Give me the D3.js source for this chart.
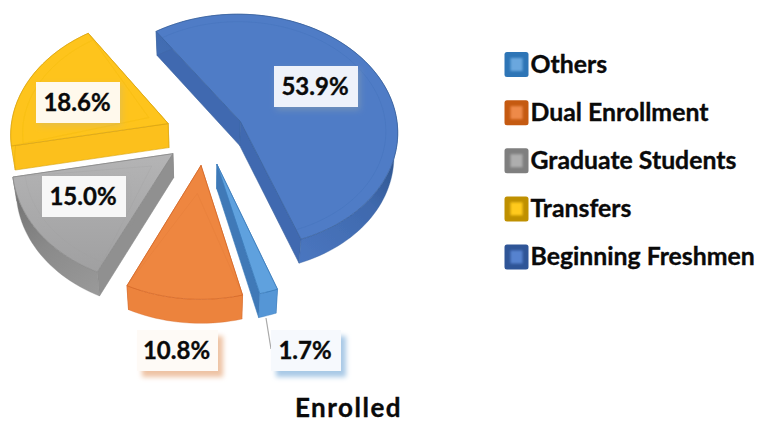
<!DOCTYPE html>
<html><head><meta charset="utf-8">
<script src="https://cdn.jsdelivr.net/npm/d3@7"></script>
<style>html,body{margin:0;padding:0;background:#fff}svg{display:block}text{font-family:Lato,"Open Sans",sans-serif;font-weight:700;fill:#0a0a0a;stroke:#0a0a0a;stroke-width:.35px}</style>
</head><body><svg id="c" width="759" height="422"></svg>
<script>
// data, in pie order (clockwise)
const categories = ["Beginning Freshmen","Others","Dual Enrollment","Graduate Students","Transfers"];
const values = [53.9,1.7,10.8,15.0,18.6];
const labels = ["53.9%","1.7%","10.8%","15.0%","18.6%"];
const legendOrder = ["Others","Dual Enrollment","Graduate Students","Transfers","Beginning Freshmen"];
const title = "Enrolled";

// styles
const styles = {
 "Beginning Freshmen":{top:"#4f7cc6",rim:"#4672bd",wall:"#4069b0",edge:"#3b639f",inset:"#3b66ad",lo:"#2f5597",hi:"#5682cf",box:"#eef2fa",shadow:"#9aa"},
 "Others":{top:"#5fa1de",rim:"#5596d6",wall:"#3f79b7",edge:"#3c7cbb",inset:"#3f7cba",lo:"#2e75b6",hi:"#6ba7de",box:"#f6f9fd",shadow:"#a9c9e6"},
 "Dual Enrollment":{top:"#ee8640",rim:"#ec833e",wall:"#d96f2c",edge:"#d5692a",inset:"#d9732e",lo:"#c55a11",hi:"#ee8a4a",box:"#fefaf6",shadow:"#eec3a4"},
 "Graduate Students":{top:"#a9a9aa",rim:"#8e8e8e",wall:"#909090",edge:"#8a8a8a",inset:"#9a9a9a",lo:"#7f7f7f",hi:"#aeaeae",box:"#f7f7f7",shadow:"#aaa"},
 "Transfers":{top:"#fec41a",rim:"#fdc41c",wall:"#fcc01a",edge:"#d9a414",inset:"#e0aa10",lo:"#bf9000",hi:"#ffca1f",box:"#fff9ec",shadow:"#c9b77a"}
};
const labelBox = {
 "Beginning Freshmen":[274,66,84,41],
 "Transfers":[36,82,84,41],
 "Graduate Students":[42,176,84,41],
 "Dual Enrollment":[137,330,81,41],
 "Others":[271,330,70,41]
};

// projection of the tilted pie plane
const cx=205, cy=135, R=158, A=118, K=0.08, EXPLODE=0.254, DEPTH=24, SHRINK=0.98;
function project(wx,wy,z){
  const w=1+K*wy;
  let x=cx+R*wx/w, y=cy-A*wy/w;
  if(z){ x=cx+(x-cx)*SHRINK; y=y+DEPTH; }
  return [x,y];
}
const svg=d3.select("#c");
const defs=svg.append("defs");
const blur=defs.append("filter").attr("id","soft").attr("x","-5%").attr("y","-5%").attr("width","110%").attr("height","110%");
blur.append("feGaussianBlur").attr("stdDeviation",0.35);
const b2=defs.append("filter").attr("id","inner").attr("x","-30%").attr("y","-30%").attr("width","160%").attr("height","160%");
b2.append("feGaussianBlur").attr("stdDeviation",1);
categories.forEach((c,i)=>{
  const f=defs.append("filter").attr("id","sh"+i).attr("x","-20%").attr("y","-20%").attr("width","150%").attr("height","160%");
  const st=styles[c], colored=(c==="Others"||c==="Dual Enrollment");
  f.append("feDropShadow").attr("dx",colored?5:2).attr("dy",colored?6:3).attr("stdDeviation",colored?2.5:3)
   .attr("flood-color",st.shadow).attr("flood-opacity",colored?1:.45);
});
const gg=defs.append("linearGradient").attr("id","grayTop").attr("x1",0).attr("y1",0).attr("x2",0).attr("y2",1);
gg.append("stop").attr("offset",0).attr("stop-color","#b4b4b5");
gg.append("stop").attr("offset",1).attr("stop-color","#a0a0a1");
const gr=defs.append("linearGradient").attr("id","grayRim").attr("gradientUnits","userSpaceOnUse").attr("x1",15).attr("y1",180).attr("x2",100).attr("y2",296);
gr.append("stop").attr("offset",0).attr("stop-color","#6e6e6e");
gr.append("stop").attr("offset",.5).attr("stop-color","#8a8a8a");
gr.append("stop").attr("offset",1).attr("stop-color","#9a9a9a");
const br=defs.append("linearGradient").attr("id","blueRim").attr("gradientUnits","userSpaceOnUse").attr("x1",395).attr("y1",160).attr("x2",300).attr("y2",262);
br.append("stop").attr("offset",0).attr("stop-color","#2f558f");
br.append("stop").attr("offset",.35).attr("stop-color","#3f69ad");
br.append("stop").attr("offset",1).attr("stop-color","#4a76c0");

const start=-34*Math.PI/180;
const pie=d3.pie().sort(null).startAngle(start).endAngle(start+2*Math.PI);
const arcs=pie(values);
const line=d3.line();
const g=svg.append("g").attr("filter","url(#soft)");

arcs.forEach((a,i)=>{
  const c=categories[i], st=styles[c];
  const mid=(a.startAngle+a.endAngle)/2;
  const ox=EXPLODE*Math.sin(mid), oy=EXPLODE*Math.cos(mid);
  const pt=(th,r,z)=>project(ox+r*Math.sin(th),oy+r*Math.cos(th),z);
  const apex=z=>project(ox,oy,z);
  const n=Math.max(4,Math.ceil((a.endAngle-a.startAngle)/(Math.PI/90)));
  const ths=d3.range(n+1).map(k=>a.startAngle+(a.endAngle-a.startAngle)*k/n);
  const topRim=ths.map(t=>pt(t,1,false));
  const botRim=ths.map(t=>pt(t,1,true));
  const topFill=c==="Graduate Students"?"url(#grayTop)":st.top;
  // radial walls, back first
  const walls=[a.startAngle,a.endAngle].map(t=>({t,d:Math.cos(t)})).sort((p,q)=>q.d-p.d);
  walls.forEach(w=>{
    g.append("path").attr("d",line([apex(false),pt(w.t,1,false),pt(w.t,1,true),apex(true)])+"Z")
     .attr("fill",st.wall).attr("stroke",st.edge).attr("stroke-width",.6).attr("stroke-linejoin","round");
  });
  // rim wall
  const rimFill=c==="Graduate Students"?"url(#grayRim)":c==="Beginning Freshmen"?"url(#blueRim)":st.rim;
  g.append("path").attr("d",line(topRim.concat(botRim.slice().reverse()))+"Z")
   .attr("fill",rimFill).attr("stroke",st.edge).attr("stroke-width",.5).attr("stroke-opacity",.7);
  // top face
  g.append("path").attr("d",line([apex(false)].concat(topRim))+"Z")
   .attr("fill",topFill).attr("stroke",st.edge).attr("stroke-width",.8).attr("stroke-linejoin","round");
  // bevel line inside the top face
  const half=(a.endAngle-a.startAngle)/2;
  const inner=ths.map(t=>pt(t,0.925,false));
  let bevel=inner;
  if(half<Math.PI/2){
    const d=0.075/Math.sin(half);
    const ap=project(ox+d*Math.sin(mid),oy+d*Math.cos(mid),false);
    if(d<0.6) bevel=[topRim[0],ap].concat([topRim[n]]);
    if(d<0.6) g.append("path").attr("d",line(inner)).attr("fill","none").attr("stroke",st.inset).attr("stroke-width",.6).attr("stroke-opacity",c==="Dual Enrollment"?0:.3);
  }
  if(c!=="Others"){
    g.append("path").attr("d",line(bevel)).attr("fill","none").attr("stroke",st.inset).attr("stroke-width",.6).attr("stroke-opacity",.35);
  }
});

// leader line for the smallest slice
svg.append("path").attr("d",line([[266,318],[271,349]])).attr("stroke","#a9a9a9").attr("stroke-width",1.2).attr("fill","none");

// data labels
categories.forEach((c,i)=>{
  const b=labelBox[c], st=styles[c];
  const lg=svg.append("g");
  lg.append("rect").attr("x",b[0]).attr("y",b[1]).attr("width",b[2]).attr("height",b[3]).attr("fill",st.box).attr("filter",`url(#sh${i})`);
  lg.append("text").attr("x",b[0]+b[2]/2-1).attr("y",b[1]+b[3]/2+8.5).attr("text-anchor","middle").attr("font-size",24).text(labels[i]);
});

// legend
const ly=d3.scalePoint().domain(legendOrder).range([64.5,257]);
const lgd=svg.append("g");
legendOrder.forEach(c=>{
  const st=styles[c], y=ly(c);
  lgd.append("rect").attr("x",504.5).attr("y",y-12.5).attr("width",24).attr("height",25).attr("rx",2.5).attr("fill",st.lo);
  lgd.append("rect").attr("x",510.5).attr("y",y-6.5).attr("width",12).attr("height",13).attr("fill",st.hi).attr("filter","url(#inner)");
  lgd.append("text").attr("x",530.5).attr("y",y+8).attr("font-size",24.8).text(c);
});

svg.append("text").attr("x",348.5).attr("y",416.8).attr("text-anchor","middle").attr("font-size",26).attr("letter-spacing",1.5).text(title);
</script></body></html>
